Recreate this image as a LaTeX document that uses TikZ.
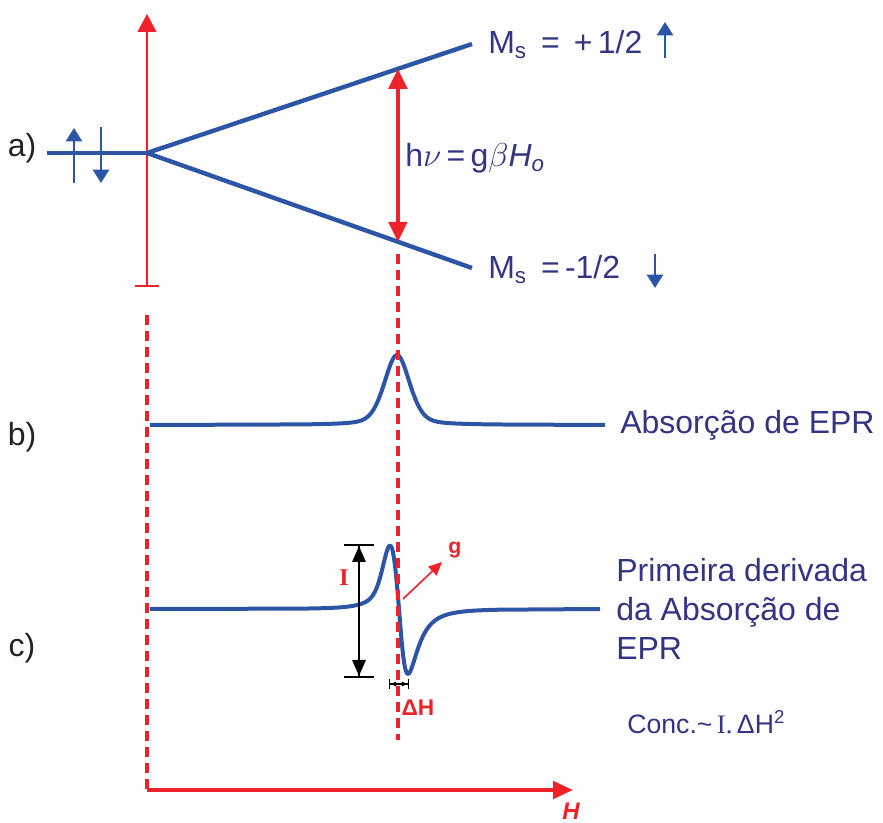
\documentclass[tikz,border=0pt]{standalone}
\usepackage{fontspec}
\setmainfont{Liberation Sans}
\newfontfamily\serifI{Liberation Serif}
\usetikzlibrary{arrows.meta,calc}
\definecolor{level}{RGB}{44,86,165}
\definecolor{field}{RGB}{237,34,42}
\definecolor{caption}{RGB}{52,52,132}
\definecolor{tag}{RGB}{35,35,35}

\begin{document}
\begin{tikzpicture}[x=0.75pt, y=-0.75pt,
  tagtext/.style={font=\fontsize{24}{29}\selectfont, text=tag, inner sep=0pt},
  bigtext/.style={font=\fontsize{24}{29}\selectfont, text=caption, inner sep=0pt, anchor=west, align=left},
  redtext/.style={font=\fontsize{16}{19}\selectfont\bfseries, text=field, inner sep=0pt},
  levelline/.style={level, line width=3.3pt},
  curve/.style={level, line width=3pt, line join=round},
  spin/.style={level, line width=2pt, -{Triangle[width=12pt, length=10pt]}},
  guide/.style={field, line width=3pt, dash pattern=on 7.5pt off 4.5pt}]
  \useasboundingbox (0,0) rectangle (883,823);

  % a) Zeeman splitting of the spin levels
  \coordinate (axtop) at (147,14);
  \coordinate (axbot) at (147,287);
  \coordinate (split) at (147,153);
  \coordinate (deg) at (47,153);
  \coordinate (upend) at (472,44);
  \coordinate (dnend) at (472,268);
  \draw[field, line width=1.7pt, {Bar[width=18pt]}-{Triangle[width=14pt, length=13.5pt]}] (axbot) -- (axtop);
  \draw[levelline] (deg) -- (split);
  \draw[levelline] (split) -- (upend);
  \draw[levelline] (split) -- (dnend);

  % spin pair on the degenerate level
  \coordinate (sa0) at (74,183);
  \coordinate (sa1) at (74,128);
  \coordinate (sb0) at (101,127);
  \coordinate (sb1) at (101,183);
  \draw[spin] (sa0) -- (sa1);
  \draw[spin] (sb0) -- (sb1);

  % resonance condition
  \coordinate (hup) at ($(split)!0.772!(upend)$);
  \coordinate (hdn) at ($(split)!0.772!(dnend)$);
  \draw[field, line width=2.4pt, {Triangle[width=14pt, length=15pt]}-{Triangle[width=14pt, length=15pt]}] (hup) -- (hdn);
  \node[bigtext] (reson) at (405,158) {h$\nu$\,=\,g$\beta$\textit{H\textsubscript{o}}};

  \node[bigtext] (msup) at (488,45) {M\textsubscript{s}\, =\;\,+\,1/2};
  \node[bigtext] (msdn) at (488,270) {M\textsubscript{s}\, =\,-1/2};
  \coordinate (mu0) at (665,58);
  \coordinate (mu1) at (665,22);
  \coordinate (md0) at (655,254);
  \coordinate (md1) at (655,288);
  \draw[spin] (mu0) -- (mu1);
  \draw[spin] (md0) -- (md1);

  % field axis and guide lines
  \coordinate (zstart) at (147,315);
  \coordinate (origin) at (147,790);
  \coordinate (hend) at (573,790);
  \coordinate (gtop) at (398,254);
  \coordinate (gfoot) at (398,740);
  \draw[guide] (zstart) -- (origin);
  \draw[field, line width=3pt, -{Triangle[width=13pt, length=15pt]}] (origin) -- (hend);
  \node[font=\fontsize{18}{21}\selectfont\bfseries\itshape, text=field, inner sep=0pt] (hlabel) at (571,811) {H};

  % b) absorption line (mostly Gaussian, a little Lorentzian)
  \draw[curve] (150,425) -- plot[domain=300:500, samples=161, smooth]
    (\x, {425 - 70*(0.65*exp(-0.693*((\x-397)/15)^2) + 0.35/(1+((\x-397)/15)^2))}) -- (605,425);
  \node[bigtext] (abs) at (620,425) {Absorção de EPR};

  % c) first derivative: half Gaussian / half Lorentzian on the left, Lorentzian on the right
  \draw[curve] (150,609)
    -- plot[domain=300:399, samples=100, smooth] (\x, {609 + 0.5*144.6*((\x-399)/12.7)*exp(-((\x-399)/12.7)^2)
         + 0.5*100*2*((\x-399)/15.6)/(1+((\x-399)/15.6)^2)^2})
    -- plot[domain=399:500, samples=100, smooth] (\x, {609 + 100*2*((\x-399)/15.6)/(1+((\x-399)/15.6)^2)^2})
    -- (600,609);
  \node[bigtext, text depth=0pt] (deriv) at (616,609) {Primeira derivada\\da Absorção de\\EPR};
  \draw[guide] (gtop) -- (gfoot);

  % intensity and linewidth
  \coordinate (itop) at (359,544);
  \coordinate (ibot) at (359,678);
  \draw[black, line width=1.5pt, {Bar[width=23pt] Triangle[width=10pt, length=12pt]}-{Triangle[width=10pt, length=12pt] Bar[width=23pt]}] (itop) -- (ibot);
  \node[font=\fontsize{18}{21}\selectfont\serifI\bfseries, text=field, inner sep=0pt] (ilabel) at (344,578) {I};
  \coordinate (wl) at (389,684);
  \coordinate (wr) at (409,684);
  \draw[black, line width=0.8pt, {Bar[width=7pt] Latex[width=4pt, length=4.5pt]}-{Latex[width=4pt, length=4.5pt] Bar[width=7pt]}] (wl) -- (wr);
  \node[redtext, font=\fontsize{17}{20}\selectfont\bfseries] (dh) at (418,708) {ΔH};
  \coordinate (g0) at (403,599);
  \coordinate (g1) at (442,562);
  \draw[field, line width=1.2pt, -{Triangle[width=9pt, length=10pt]}] (g0) -- (g1);
  \node[redtext] (glabel) at (455,550) {g};

  \node[font=\fontsize{20}{24}\selectfont, text=caption, inner sep=0pt, anchor=west] (conc) at (627,722) {Conc.\textasciitilde\,{\serifI I.}\,ΔH\textsuperscript{2}};

  % panel tags
  \node[tagtext] (ta) at (22,148) {a)};
  \node[tagtext] (tb) at (22,437) {b)};
  \node[tagtext] (tc) at (22,648) {c)};

\end{tikzpicture}
\end{document}
